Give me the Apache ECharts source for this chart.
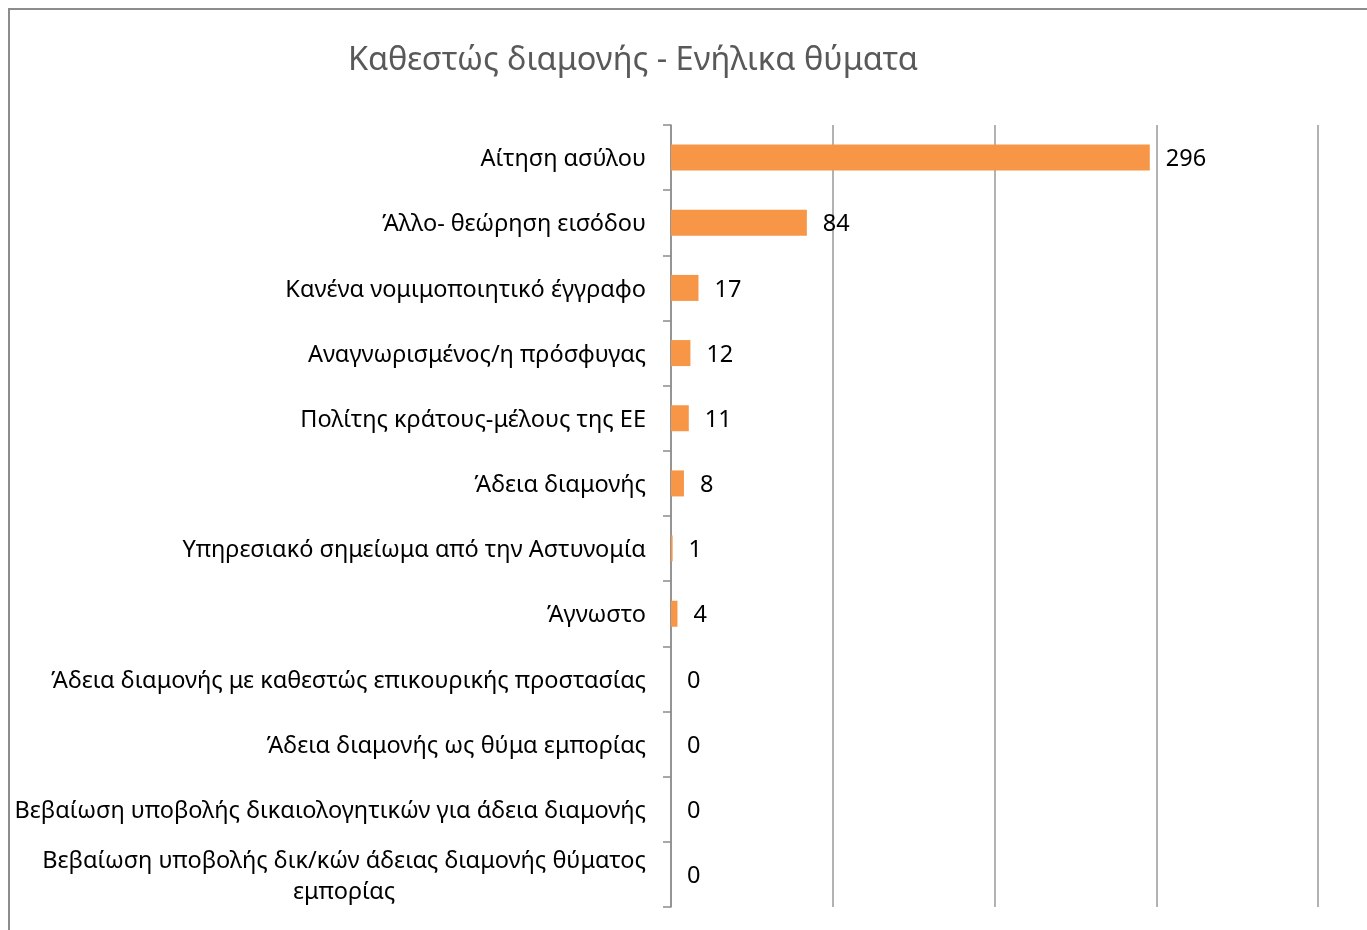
<!DOCTYPE html>
<html>
<head>
<meta charset="utf-8">
<script src="https://cdn.jsdelivr.net/npm/echarts@6/dist/echarts.min.js"></script>
<style>
html,body{margin:0;padding:0;background:#fff;}
#frame{position:absolute;left:8px;top:8px;width:1400px;height:960px;border-left:2px solid #8c8c8c;border-top:2px solid #8c8c8c;box-sizing:border-box;}
#chart{position:absolute;left:0;top:0;width:1367px;height:930px;}
</style>
</head>
<body>
<div id="frame"></div>
<div id="chart"></div>
<script>
const titleText = 'Καθεστώς διαμονής - Ενήλικα θύματα';
const categories = [
  'Αίτηση ασύλου',
  'Άλλο- θεώρηση εισόδου',
  'Κανένα νομιμοποιητικό έγγραφο',
  'Αναγνωρισμένος/η πρόσφυγας',
  'Πολίτης κράτους-μέλους της ΕΕ',
  'Άδεια διαμονής',
  'Υπηρεσιακό σημείωμα από την Αστυνομία',
  'Άγνωστο',
  'Άδεια διαμονής με καθεστώς επικουρικής προστασίας',
  'Άδεια διαμονής ως θύμα εμπορίας',
  'Βεβαίωση υποβολής δικαιολογητικών για άδεια διαμονής',
  'Βεβαίωση υποβολής δικ/κών άδειας διαμονής θύματος\nεμπορίας'
];
const values = [296, 84, 17, 12, 11, 8, 1, 4, 0, 0, 0, 0];
const axisMax = 400;
const axisInterval = 100;

const chart = echarts.init(document.getElementById('chart'));
const font = 'Noto Sans, DejaVu Sans, sans-serif';
const fs = 23.5;
chart.setOption({
  backgroundColor: 'transparent',
  animation: false,
  title: {
    text: titleText,
    left: 628, top: 39, textAlign: 'center',
    textStyle: {fontFamily: font, fontSize: 32.5, fontWeight: 'normal', color: '#595959'}
  },
  grid: {left: 671, top: 125, right: 49, bottom: 23, containLabel: false},
  xAxis: {
    type: 'value', min: 0, max: axisMax, interval: axisInterval,
    axisLabel: {show: false}, axisLine: {show: false}, axisTick: {show: false},
    splitLine: {show: true, lineStyle: {color: '#999', width: 1.5}}
  },
  yAxis: {
    type: 'category', data: categories, inverse: true,
    axisLine: {show: true, lineStyle: {color: '#8c8c8c', width: 1.5}},
    axisTick: {show: true, length: 8, lineStyle: {color: '#8c8c8c', width: 1.5}},
    axisLabel: {
      margin: 25, color: '#000', fontFamily: font, fontSize: fs,
      padding: [4, 0, 0, 0],
      formatter: function (v) {
        if (v.indexOf('\n') >= 0) {
          return v.split('\n').map(function (s) { return '{c|' + s + '}'; }).join('\n');
        }
        return v;
      },
      rich: {c: {align: 'center', fontFamily: font, fontSize: fs, color: '#000', lineHeight: 31}}
    }
  },
  series: [{
    type: 'bar', data: values, barWidth: 26,
    itemStyle: {color: '#f79646'},
    label: {show: true, position: 'right', distance: 16, offset: [0, 2], color: '#000', fontFamily: font, fontSize: fs}
  }]
});
</script>
</body>
</html>
